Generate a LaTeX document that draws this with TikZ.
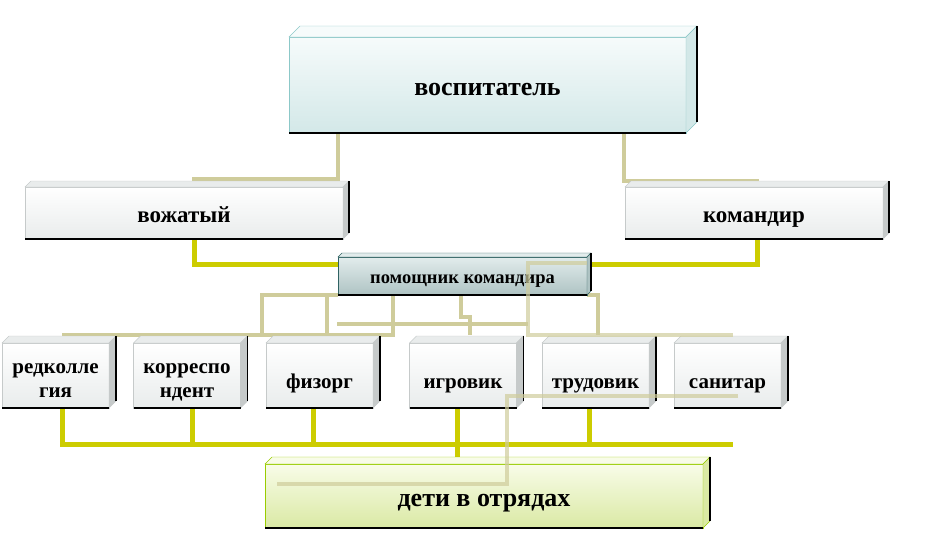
\documentclass[tikz,border=0pt]{standalone}
\usepackage{fontspec}
\setmainfont{Liberation Serif}
\usepackage{xcolor}
\usetikzlibrary{positioning}
\pgfdeclarelayer{background}
\pgfsetlayers{background,main}

\definecolor{khaki}{HTML}{CFCC9B}
\definecolor{yel}{HTML}{CCCC00}
\definecolor{vospline}{HTML}{8CC8C8}
\definecolor{vosptop}{HTML}{F6FBFB}
\definecolor{vospbot}{HTML}{D3E8E8}
\definecolor{greyline}{HTML}{C6CACA}
\definecolor{greybot}{HTML}{E9ECEC}
\definecolor{pomline}{HTML}{2F6262}
\definecolor{pomtop}{HTML}{E2ECEC}
\definecolor{pombot}{HTML}{AEC3C3}
\definecolor{kidsline}{HTML}{99CC00}
\definecolor{kidstop}{HTML}{F8FCE8}
\definecolor{kidsbot}{HTML}{DAE9A4}

\begin{document}
\begin{tikzpicture}[x=1pt,y=-1pt,line join=miter,
  front/.style={inner sep=0pt,outer sep=0pt,align=center,text depth=0pt},
  topbox/.style={front,text height=20pt,draw=vospline,top color=vosptop,bottom color=vospbot,minimum width=397pt,minimum height=96pt,font=\bfseries\fontsize{26}{30}\selectfont},
  sidebox/.style={front,text height=19.5pt,draw=greyline,top color=white,bottom color=greybot,minimum height=52pt,font=\bfseries\fontsize{23}{26}\selectfont},
  helperbox/.style={front,text height=14pt,draw=pomline,top color=pomtop,bottom color=pombot,minimum width=249pt,minimum height=38pt,font=\bfseries\fontsize{18.5}{20}\selectfont},
  rolebox/.style={front,text height=25pt,draw=greyline,top color=white,bottom color=greybot,minimum width=107pt,minimum height=65pt,font=\bfseries\fontsize{21}{24}\selectfont},
  tworole/.style={rolebox,text height=43pt},
  kidsbox/.style={front,text height=20pt,draw=kidsline,top color=kidstop,bottom color=kidsbot,minimum width=438pt,minimum height=64pt,font=\bfseries\fontsize{26}{30}\selectfont},
  khakiline/.style={draw=khaki,line width=4pt},
  yelline/.style={draw=yel,line width=5pt},
  overline/.style={khakiline,draw opacity=.7}]

    \useasboundingbox (0,0) rectangle (950,541);

    % The boxes
	\node [topbox] at (487.5,85) (vosp) {воспитатель};
	\node [sidebox,minimum width=318pt] at (184,213) (vozh) {вожатый};
	\node [sidebox,minimum width=258pt] at (754,213) (kom) {командир};
	\node [helperbox] at (462.5,276) (pom) {помощник командира};
	\node [tworole] at (55.5,375.5) (red) {редколле\\гия};
	\node [tworole] at (187,375.5) (kor) {корреспо\\ндент};
	\node [rolebox] at (319.5,375.5) (fiz) {физорг};
	\node [rolebox] at (463,375.5) (igr) {игровик};
	\node [rolebox] at (595.5,375.5) (trud) {трудовик};
	\node [rolebox] at (727.5,375.5) (san) {санитар};
	\node [kidsbox] at (484,496) (kids) {дети в отрядах};

	% Box depth
	\foreach \n/\d/\t/\s/\l in {vosp/11/vosptop/vospbot/vospline,
	    vozh/6/greybot/greyline/greyline, kom/6/greybot/greyline/greyline,
	    pom/4/pomtop/pombot/pomline,
	    red/7/greybot/greyline/greyline, kor/7/greybot/greyline/greyline,
	    fiz/7/greybot/greyline/greyline, igr/7/greybot/greyline/greyline,
	    trud/7/greybot/greyline/greyline, san/7/greybot/greyline/greyline,
	    kids/7/kidstop/kidsbot/kidsline} {
	  \filldraw[fill=\t,draw=\l] (\n.north west) -- ++(\d,-\d) -- ([shift={(\d,-\d)}]\n.north east) -- (\n.north east) -- cycle;
	  \filldraw[fill=\s,draw=\l] (\n.north east) -- ++(\d,-\d) -- ([shift={(\d,-\d)}]\n.south east) -- (\n.south east) -- cycle;
	  \draw[black,line width=1.2pt] (\n.south west) -- (\n.south east)
	    ([shift={(\d,-\d)}]\n.north east) -- ([shift={(\d,-\d)}]\n.south east);
	}

	% Free ends
	\coordinate (vl) at (192,179);
	\coordinate (kr) at (759,181);
	\coordinate (rl) at (62,335);
	\coordinate (m1) at (262,335);
	\coordinate (m2) at (327,296);
	\coordinate (m3) at (337,324);
	\coordinate (m4) at (528,324);
	\coordinate (m5) at (470,335);
	\coordinate (m6) at (733,335);
	\coordinate (m7) at (598,335);
	\coordinate (o1) at (738,396);
	\coordinate (o2) at (277,484);
	\coordinate (yb) at (733,444);

	% Connectors
	\begin{pgfonlayer}{background}
	\draw[khakiline] (vosp.south -| 338,0) |- (vl);
	\draw[khakiline] (vosp.south -| 624,0) |- (kr);
	\draw[yelline] (vozh.south -| 194,0) |- (pom.west |- 0,264);
	\draw[yelline] (kom.south -| 757,0) |- (pom.east |- 0,264);

	\draw[khakiline] (pom.south -| 393,0) |- (rl);
	\draw[khakiline] (m1) |- (pom.south west);
	\draw[khakiline] (m2) -- (m2 |- rl);
	\draw[khakiline] (m3) -- (m4);
	\draw[khakiline] (pom.south -| 461,0) -- (461,317) -| (m5);
	\draw[khakiline] (pom.south east) -| (m7);

	\draw[yelline] (red.south -| 62,0) |- (yb);
	\foreach \n/\x in {kor/192,fiz/313,trud/589}
	  \draw[yelline] (\n.south -| \x,0) -- (\x,444);
	\draw[yelline] (igr.south -| 457,0) -- (kids.north -| 457,0);
	\end{pgfonlayer}

	\draw[overline] (pom.east |- 0,263) -| (528,335) -- (m6);
	\draw[overline] (o1) -| (507,484) -- (o2);

\end{tikzpicture}
\end{document}
